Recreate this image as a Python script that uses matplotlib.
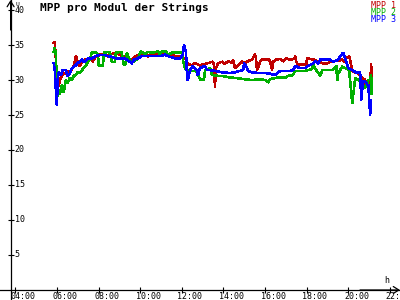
import matplotlib
matplotlib.use("Agg")
import matplotlib.pyplot as plt
import matplotlib.transforms as mtransforms

# data (hours of day, volts)
t_mpp1 = [5.85, 5.90, 5.95, 6.00, 6.04, 6.09, 6.14, 6.24, 6.33, 6.43, 6.52, 6.62, 6.72, 6.81, 6.91, 6.96,
          7.00, 7.10, 7.20, 7.34, 7.49, 7.58, 7.73, 7.87, 8.06, 8.26, 8.45, 8.64, 8.83, 9.02, 9.22, 9.41,
          9.60, 9.79, 9.99, 10.18, 10.37, 10.56, 10.75, 10.95, 11.14, 11.33, 11.52, 11.67, 11.91, 12.10,
          12.20, 12.29, 12.49, 12.63, 12.87, 13.11, 13.26, 13.45, 13.54, 13.59, 13.64, 13.74, 13.93, 14.07,
          14.22, 14.41, 14.46, 14.55, 14.70, 14.89, 15.03, 15.18, 15.37, 15.51, 15.56, 15.61, 15.76, 15.85,
          16.00, 16.14, 16.24, 16.33, 16.38, 16.52, 16.72, 16.86, 17.00, 17.20, 17.39, 17.44, 17.49, 17.58,
          17.77, 17.97, 18.01, 18.16, 18.35, 18.54, 18.74, 18.93, 19.12, 19.31, 19.51, 19.70, 19.79, 19.89,
          20.03, 20.08, 20.18, 20.32, 20.47, 20.56, 20.66, 20.80, 20.85, 20.90, 21.00, 21.04, 21.09, 21.11]
v_mpp1 = [35.3, 35.4, 33.1, 28.6, 30.6, 29.1, 30.0, 30.6, 30.9, 31.0, 31.3, 30.9, 31.6, 32.0, 33.4, 33.1,
          32.3, 32.0, 32.6, 32.9, 32.6, 33.1, 32.7, 33.3, 33.6, 33.7, 33.4, 33.7, 33.9, 33.6, 33.4, 33.1,
          32.9, 33.4, 33.6, 33.7, 33.4, 33.7, 33.6, 33.7, 33.6, 33.7, 33.6, 33.4, 33.3, 33.1,
          32.9, 32.3, 32.1, 32.4, 32.1, 32.3, 32.4, 32.6, 32.3, 29.0, 31.7, 32.4, 32.6, 32.3,
          32.7, 32.4, 32.9, 31.7, 32.1, 32.6, 32.4, 32.7, 32.9, 33.7, 33.1, 31.4, 32.6, 33.0,
          32.9, 33.0, 32.7, 31.4, 32.6, 32.9, 33.0, 32.7, 33.1, 32.9, 33.0, 33.4, 32.7, 32.1,
          32.3, 32.1, 33.1, 33.0, 32.9, 32.6, 32.4, 32.3, 32.6, 32.7, 32.7, 32.9, 32.6, 33.1,
          33.4, 32.9, 31.3, 31.1, 30.9, 30.6, 30.3, 30.0, 28.9, 29.4, 30.0, 29.1, 32.4, 29.3]

t_mpp2 = [5.85, 5.90, 5.95, 6.00, 6.04, 6.09, 6.14, 6.24, 6.33, 6.43, 6.52, 6.62, 6.72, 6.81, 6.91, 7.00,
          7.10, 7.20, 7.29, 7.39, 7.49, 7.58, 7.68, 7.87, 7.97, 8.01, 8.21, 8.26, 8.45, 8.54, 8.64, 8.78,
          8.83, 9.02, 9.12, 9.22, 9.31, 9.36, 9.51, 9.70, 9.89, 10.03, 10.23, 10.37, 10.56, 10.75, 10.85,
          10.95, 11.04, 11.14, 11.24, 11.33, 11.52, 11.81, 12.01, 12.05, 12.15, 12.29, 12.63, 12.77, 12.87,
          13.06, 13.11, 13.35, 13.45, 13.74, 13.93, 14.22, 14.55, 15.03, 15.37, 15.76, 16.00, 16.14, 16.24,
          16.48, 16.72, 16.96, 17.10, 17.34, 17.44, 17.68, 17.92, 18.06, 18.26, 18.30, 18.40, 18.54, 18.64,
          18.74, 19.02, 19.22, 19.36, 19.41, 19.46, 19.51, 19.60, 19.70, 19.84, 20.03, 20.13, 20.18, 20.23,
          20.32, 20.47, 20.56, 20.66, 20.75, 20.85, 20.95, 21.04, 21.09, 21.11]
v_mpp2 = [34.0, 34.6, 33.6, 30.0, 27.7, 28.6, 27.9, 29.3, 28.3, 30.0, 29.6, 30.3, 30.0, 30.6, 30.7, 31.1,
          31.0, 31.4, 31.7, 32.0, 32.6, 32.9, 33.9, 33.9, 33.7, 32.1, 32.1, 33.9, 34.0, 33.9, 32.6, 32.6,
          33.9, 34.0, 33.9, 32.1, 32.3, 33.9, 32.7, 32.6, 33.1, 34.1, 33.7, 34.0, 33.9, 34.0, 34.1,
          33.7, 34.1, 34.0, 34.1, 33.6, 33.9, 33.9, 34.0, 32.9, 31.7, 31.3, 31.3, 30.9, 30.1,
          30.0, 31.4, 31.7, 30.7, 30.6, 30.6, 30.4, 30.3, 30.1, 30.0, 30.1, 30.0, 29.7, 30.1,
          30.3, 30.4, 30.3, 30.6, 30.7, 31.3, 31.3, 31.3, 31.4, 31.6, 32.4, 31.6, 31.1, 30.6,
          31.4, 31.4, 31.4, 31.7, 32.1, 30.0, 30.9, 31.4, 31.9, 31.7, 31.4, 28.3, 26.7, 27.9,
          30.3, 30.0, 29.7, 29.4, 28.9, 29.1, 30.0, 30.0, 30.7, 28.1]

t_mpp3 = [5.85, 5.90, 5.95, 6.00, 6.04, 6.09, 6.19, 6.28, 6.43, 6.52, 6.62, 6.72, 6.91, 7.00, 7.20, 7.29,
          7.39, 7.49, 7.68, 7.87, 8.06, 8.26, 8.45, 8.64, 8.83, 9.02, 9.22, 9.36, 9.51, 9.60, 9.70, 9.89,
          10.08, 10.27, 10.47, 10.71, 10.95, 11.19, 11.43, 11.67, 11.91, 12.05, 12.10, 12.20, 12.25, 12.29,
          12.39, 12.53, 12.73, 12.77, 12.87, 13.11, 13.21, 13.35, 13.59, 13.93, 14.31, 14.55, 14.79, 14.94,
          14.99, 15.08, 15.18, 15.37, 15.66, 16.00, 16.24, 16.48, 16.72, 16.96, 17.20, 17.34, 17.44, 17.68,
          17.92, 18.06, 18.26, 18.40, 18.54, 18.64, 18.88, 19.12, 19.26, 19.51, 19.60, 19.75, 19.84, 19.99,
          20.18, 20.42, 20.56, 20.61, 20.66, 20.71, 20.85, 20.90, 20.95, 21.00, 21.04, 21.09]
v_mpp3 = [32.4, 31.4, 28.6, 26.3, 30.0, 31.1, 30.7, 31.4, 31.4, 30.6, 30.9, 31.7, 32.1, 32.4, 32.9, 32.6,
          32.7, 33.1, 33.1, 33.4, 33.6, 33.6, 33.4, 33.3, 33.1, 33.1, 33.1, 32.9, 32.6, 32.4, 32.9, 33.1,
          33.4, 33.4, 33.4, 33.4, 33.4, 33.6, 33.3, 33.1, 33.1, 33.6, 35.0, 34.0, 30.3, 29.9,
          31.4, 32.0, 31.4, 30.6, 31.7, 32.0, 31.4, 31.4, 31.3, 31.1, 31.0, 31.1, 31.3, 31.4,
          32.4, 32.0, 31.3, 31.1, 31.0, 31.0, 30.9, 30.7, 31.3, 31.3, 31.3, 31.4, 32.0, 31.7,
          31.7, 32.0, 32.3, 32.7, 32.3, 32.9, 32.9, 32.9, 32.6, 32.9, 33.4, 33.9, 33.1, 31.7,
          31.4, 31.0, 31.1, 27.1, 28.6, 29.9, 29.7, 29.3, 29.3, 27.1, 25.0, 27.1]

series_names = ["MPP 1", "MPP 2", "MPP 3"]
series_colors = ["#c00000", "#00b000", "#0000ff"]
x_ticks = [4, 6, 8, 10, 12, 14, 16, 18, 20, 22]
x_tick_labels = ["%02d:00" % h for h in x_ticks]
y_ticks = [5, 10, 15, 20, 25, 30, 35, 40]

mono = "DejaVu Sans Mono"
y_axis_pos = 3.78

fig = plt.figure(figsize=(4, 3), dpi=100)
ax = fig.add_axes([0, 0, 1, 1])
ax.set_xlim(3.2703, 22.4734)
ax.set_ylim(-1.4286, 41.4286)

for t, v, c in zip([t_mpp1, t_mpp2, t_mpp3], [v_mpp1, v_mpp2, v_mpp3], series_colors):
    ax.plot(t, v, color=c, lw=1.1, antialiased=False, solid_joinstyle="miter")

# axes drawn as arrows through the origin
for s in ["top", "right"]:
    ax.spines[s].set_visible(False)
ax.spines["left"].set_position(("data", y_axis_pos))
ax.spines["bottom"].set_position(("data", 0))
for s in ["left", "bottom"]:
    ax.spines[s].set_linewidth(0.9)
ax.set_xticks(x_ticks)
ax.set_yticks(y_ticks)
ax.set_xticklabels([])
ax.set_yticklabels([])
ax.tick_params(direction="inout", length=4.3, width=0.8)

xoff = mtransforms.offset_copy(ax.transData, fig, x=-4.5, y=-2.5, units="dots")
for h, lab in zip(x_ticks, x_tick_labels):
    ax.text(h, 0, lab, transform=xoff, ha="left", va="top", fontsize=6, family=mono)
yoff = mtransforms.offset_copy(ax.transData, fig, x=4, y=0, units="dots")
for v in y_ticks:
    ax.text(y_axis_pos, v, str(v), transform=yoff, ha="left", va="center", fontsize=6, family=mono)

arrow = dict(arrowstyle="->,head_length=0.4,head_width=0.25", lw=0.9, color="black",
             shrinkA=0, shrinkB=0)
ax.annotate("", xy=(y_axis_pos, 1), xycoords=("data", "axes fraction"),
            xytext=(y_axis_pos, 0.9), arrowprops=arrow)
ax.annotate("", xy=(1, 0), xycoords=("axes fraction", "data"),
            xytext=(0.9, 0), arrowprops=arrow)

ax.text(0.04, 0.981, "U", transform=ax.transAxes, ha="left", va="baseline", fontsize=4.5, family=mono)
ax.text(0.9675, 0.065, "h", transform=ax.transAxes, ha="center", va="center", fontsize=6, family=mono)

fig.text(0.1, 1 - 8 / 300, "MPP pro Modul der Strings", ha="left", va="center",
         fontsize=8, fontweight="bold", family=mono)
for i, (name, c) in enumerate(zip(series_names, series_colors)):
    fig.text(0.99, 1 - (5 + 7.5 * i) / 300, name, ha="right", va="center",
             fontsize=6, family=mono, color=c)

fig.savefig("out.png", dpi=100)
